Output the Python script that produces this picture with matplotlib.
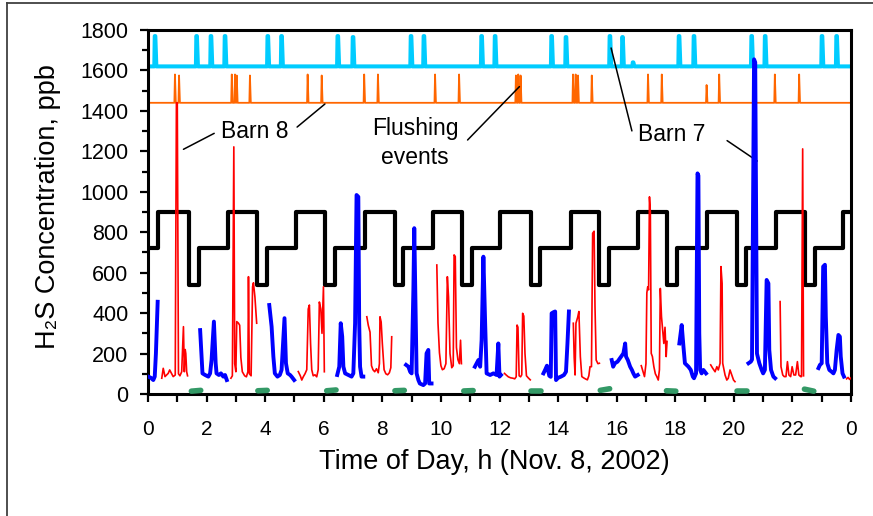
import numpy as np
import matplotlib
matplotlib.use('Agg')
import matplotlib.pyplot as plt
from matplotlib.lines import Line2D

plt.rcParams['font.family'] = ['Liberation Sans', 'DejaVu Sans']

# ---- data (time in h, concentration in ppb) ----
# ventilation stage (black step line): switch times and levels
fan_t = [0, 0.34, 1.40, 1.74, 2.73, 3.71, 4.05, 5.05, 6.04, 6.38, 7.41, 8.43, 8.71,
         9.73, 10.72, 11.06, 12.02, 13.08, 13.38, 14.43, 15.40, 15.74, 16.73, 17.71,
         18.05, 19.07, 20.10, 20.42, 21.44, 22.43, 22.77, 23.74, 24.0]
fan_v = [720, 900, 540, 720, 900, 540, 720, 900, 540, 720, 900, 540, 720,
         900, 540, 720, 900, 540, 720, 900, 540, 720, 900, 540,
         720, 900, 540, 720, 900, 540, 720, 900, 900]

# flushing events, barn 7 (cyan) and barn 8 (orange)
flush7_base = 1620
flush7_t = [0.24, 1.66, 2.15, 2.63, 4.09, 4.56, 6.48, 7.00, 8.98, 9.42, 11.39, 11.85,
            13.78, 14.27, 15.77, 16.20, 16.56, 18.13, 18.64, 20.61, 21.07, 23.01, 23.51]
flush7_h = [1770, 1770, 1770, 1770, 1770, 1770, 1770, 1765, 1770, 1770, 1770, 1770,
            1770, 1765, 1770, 1765, 1640, 1770, 1770, 1770, 1770, 1770, 1770]
flush8_base = 1440
flush8_t = [0.92, 1.06, 2.86, 2.97, 3.03, 3.48, 5.45, 5.93, 7.38, 7.85, 9.80, 10.62,
            12.56, 12.64, 12.72, 14.51, 14.60, 14.68, 15.15, 17.07, 17.54, 19.07,
            19.50, 21.40, 22.23]
flush8_h = [1580, 1575, 1580, 1580, 1575, 1575, 1580, 1575, 1580, 1580, 1580, 1580,
            1575, 1580, 1575, 1580, 1580, 1575, 1575, 1580, 1580, 1528,
            1580, 1580, 1580]

# H2S barn 8 (red), segments separated by nan
red_t = [0.47, 0.52, 0.58, 0.69, 0.74, 0.86, 0.93, 0.97, 1.00, 1.04, 1.09, 1.15, 1.21, 1.24, 1.27, 1.29, 1.32, 1.35, np.nan,
         2.83, 2.88, 2.93, 2.96, 3.00, 3.03, 3.09, 3.13, 3.17, 3.22, 3.30, 3.36, 3.41, 3.43, 3.46, 3.52, 3.57, 3.60, 3.65, 3.71, np.nan,
         5.13, 5.20, 5.25, 5.30, 5.36, 5.42, 5.47, 5.51, 5.55, 5.59, 5.64, 5.70, 5.76, 5.81, 5.85, 5.90, 5.94, 5.99, 6.02, np.nan,
         7.47, 7.52, 7.58, 7.63, 7.68, 7.74, 7.80, 7.86, 7.90, 7.92, 7.96, 8.00, 8.06, 8.12, 8.18, 8.24, 8.29, 8.32, np.nan,
         9.86, 9.90, 9.95, 10.00, 10.05, 10.11, 10.17, 10.22, 10.26, 10.31, 10.37, 10.42, 10.45, 10.49, 10.53, 10.58, 10.63, 10.67, 10.70, np.nan,
         12.17, 12.22, 12.30, 12.38, 12.46, 12.52, 12.57, 12.60, 12.63, 12.67, 12.72, 12.76, 12.79, 12.83, 12.87, 12.92, 12.98, 13.05, np.nan,
         14.52, 14.55, 14.58, 14.61, 14.67, 14.71, 14.76, 14.81, 14.87, 14.93, 15.00, 15.05, 15.09, 15.14, 15.18, 15.23, 15.26, 15.30, 15.36, 15.41, np.nan,
         16.84, 16.90, 16.95, 17.00, 17.03, 17.06, 17.09, 17.12, 17.15, 17.18, 17.22, 17.27, 17.32, 17.37, 17.42, 17.46, 17.49, 17.53, 17.57, 17.61, 17.65, 17.69, 17.72, np.nan,
         19.21, 19.28, 19.36, 19.42, 19.47, 19.53, 19.56, 19.60, 19.62, 19.70, 19.76, 19.81, 19.87, 19.93, 19.99, 20.04, np.nan,
         21.58, 21.61, 21.67, 21.72, 21.78, 21.83, 21.88, 21.94, 21.99, 22.05, 22.11, 22.17, 22.22, 22.28, 22.31, 22.35, 22.37, 22.38, np.nan,
         23.85, 23.90, 23.95, 24.00]
red_v = [78, 127, 86, 102, 119, 86, 94, 1440, 1440, 100, 90, 110, 333, 110, 220, 200, 110, 90, np.nan,
         78, 90, 1222, 150, 110, 358, 350, 340, 180, 110, 90, 85, 110, 580, 100, 90, 530, 550, 480, 350, np.nan,
         111, 90, 69, 85, 100, 120, 420, 440, 250, 120, 90, 95, 85, 120, 455, 420, 300, 530, 110, np.nan,
         382, 340, 306, 140, 120, 110, 125, 105, 150, 382, 356, 250, 120, 100, 95, 105, 130, 283, np.nan,
         638, 351, 204, 140, 120, 125, 150, 580, 480, 200, 130, 140, 688, 680, 230, 170, 150, 266, 150, np.nan,
         102, 95, 85, 80, 78, 75, 85, 341, 330, 90, 85, 95, 399, 385, 200, 90, 80, 70, np.nan,
         350, 180, 94, 350, 380, 408, 185, 86, 80, 75, 70, 90, 135, 135, 795, 805, 433, 168, 150, 152, np.nan,
         140, 110, 86, 150, 500, 530, 515, 975, 900, 201, 185, 135, 100, 86, 69, 120, 522, 383, 317, 250, 330, 185, 260, np.nan,
         144, 127, 110, 135, 119, 152, 630, 547, 152, 94, 69, 78, 119, 94, 69, 61, np.nan,
         457, 135, 94, 86, 86, 160, 94, 86, 135, 94, 94, 160, 94, 86, 86, 1212, 400, 90, np.nan,
         75, 82, 72, 80]

# H2S barn 7 (blue)
blue_t = [0.01, 0.10, 0.18, 0.23, 0.27, 0.33, np.nan,
          1.78, 1.86, 1.95, 2.06, 2.12, 2.17, 2.25, 2.31, 2.34, 2.42, 2.49, 2.57, 2.63, 2.69, np.nan,
          4.14, 4.22, 4.28, 4.33, 4.42, 4.50, 4.56, 4.66, 4.71, 4.77, 4.85, 4.90, 4.99, np.nan,
          6.46, 6.53, 6.58, 6.63, 6.67, 6.73, 6.84, 6.95, 7.01, 7.07, 7.12, 7.18, 7.21, 7.24, 7.29, 7.35, np.nan,
          8.81, 8.89, 8.95, 9.00, 9.06, 9.09, 9.14, 9.17, 9.23, 9.28, 9.40, 9.46, 9.51, 9.57, 9.60, 9.68, np.nan,
          11.16, 11.28, 11.34, 11.39, 11.45, 11.51, 11.56, 11.68, 11.79, 11.90, 11.96, 12.00, 12.05, np.nan,
          13.50, 13.56, 13.62, 13.70, 13.75, 13.78, 13.85, 13.90, 13.93, 14.00, 14.10, 14.20, 14.27, 14.32, 14.37, np.nan,
          15.83, 15.88, 15.94, 16.03, 16.15, 16.23, 16.29, 16.32, 16.38, 16.46, 16.52, 16.57, 16.63, 16.72, np.nan,
          18.14, 18.22, 18.28, 18.33, 18.45, 18.53, 18.60, 18.64, 18.71, 18.76, 18.79, 18.82, 18.85, 18.90, 18.96, 19.05, np.nan,
          20.50, 20.58, 20.62, 20.69, 20.73, 20.79, 20.87, 20.95, 21.00, 21.06, 21.12, 21.18, 21.21, 21.27, 21.35, 21.41, np.nan,
          22.89, 22.94, 23.00, 23.05, 23.11, 23.14, 23.19, 23.26, 23.34, 23.40, 23.45, 23.51, 23.57, 23.62, 23.65, 23.71, 23.76]
blue_v = [86, 80, 69, 86, 200, 456, np.nan,
          316, 102, 94, 86, 102, 168, 358, 152, 102, 94, 102, 86, 94, 69, np.nan,
          440, 333, 185, 102, 86, 94, 119, 375, 152, 102, 94, 86, 69, np.nan,
          94, 135, 350, 284, 135, 102, 94, 86, 102, 350, 984, 975, 350, 135, 86, 86, np.nan,
          144, 135, 110, 102, 515, 820, 350, 102, 69, 52, 44, 52, 201, 218, 52, 52, np.nan,
          135, 168, 135, 267, 679, 350, 102, 94, 102, 94, 250, 86, 94, np.nan,
          102, 120, 140, 90, 85, 399, 405, 408, 69, 80, 86, 94, 110, 250, 408, np.nan,
          168, 135, 152, 160, 185, 201, 250, 185, 168, 135, 119, 102, 86, 94, np.nan,
          250, 341, 234, 152, 135, 119, 86, 78, 102, 1091, 1080, 300, 119, 102, 119, 102, np.nan,
          152, 160, 170, 1655, 1640, 200, 152, 119, 102, 119, 564, 547, 218, 119, 86, 78, np.nan,
          128, 144, 152, 630, 639, 383, 152, 119, 110, 102, 119, 218, 292, 284, 185, 102, 86]

# short green marks near the bottom
green_t0 = [1.48, 3.75, 6.10, 8.43, 10.78, 13.09, 15.44, 17.70, 20.12, 22.41]
green_t1 = [1.80, 4.07, 6.42, 8.75, 11.10, 13.41, 15.76, 18.02, 20.44, 22.73]
green_v0 = [14, 16, 16, 16, 15, 17, 18, 16, 15, 24]
green_v1 = [18, 18, 20, 18, 17, 17, 26, 14, 15, 14]

x_major = [0, 2, 4, 6, 8, 10, 12, 14, 16, 18, 20, 22, 24]
x_labels = ['0', '2', '4', '6', '8', '10', '12', '14', '16', '18', '20', '22', '0']
y_major = [0, 200, 400, 600, 800, 1000, 1200, 1400, 1600, 1800]


def pulse_line(times, heights, base, w_up, w_top, w_down):
    xs, ys = [0.0], [base]
    for t, h in zip(times, heights):
        xs += [t - w_up - w_top / 2, t - w_top / 2, t + w_top / 2, t + w_top / 2 + w_down]
        ys += [base, h, h, base]
    xs.append(24.0)
    ys.append(base)
    return xs, ys


fig = plt.figure(figsize=(8.73, 5.16), dpi=100)
ax = fig.add_axes([148 / 873, 1 - 394 / 516, 703 / 873, 364 / 516])

c7x, c7y = pulse_line(flush7_t, flush7_h, flush7_base, 0.015, 0.02, 0.035)
ax.plot(c7x, c7y, color='#00ccff', lw=2.9, zorder=2)
c8x, c8y = pulse_line(flush8_t, flush8_h, flush8_base, 0.02, 0.0, 0.03)
ax.plot(c8x, c8y, color='#ff6600', lw=1.3, zorder=2)

ax.plot(fan_t, fan_v, color='black', lw=3, drawstyle='steps-post', zorder=3)
ax.plot(red_t, red_v, color='#ff0000', lw=1.2, zorder=4)
ax.plot(blue_t, blue_v, color='#0000ff', lw=2.8, zorder=5)
for a, b, va, vb in zip(green_t0, green_t1, green_v0, green_v1):
    ax.plot([a, b], [va, vb], color='#339966', lw=4, solid_capstyle='round', zorder=6)

ax.set_xlim(0, 24)
ax.set_ylim(0, 1800)
ax.set_xticks(x_major)
ax.set_xticklabels(x_labels)
ax.set_xticks(np.arange(1, 24, 2), minor=True)
ax.set_yticks(y_major)
ax.set_yticks(np.arange(100, 1800, 200), minor=True)
ax.tick_params(axis='x', which='both', direction='out', length=6, width=1.6, labelsize=15, pad=13)
ax.tick_params(axis='y', which='major', direction='out', length=6, width=1.6, labelsize=15.5, pad=8)
ax.tick_params(axis='y', which='minor', direction='out', length=4, width=1.6)
for s in ax.spines.values():
    s.set_linewidth(2.2)

fig.text(48 / 873, 1 - 207 / 516, 'H\u2082S Concentration, ppb', rotation=90,
         ha='center', va='center', fontsize=19.5)
fig.text(494 / 873, 1 - 462 / 516, 'Time of Day, h (Nov. 8, 2002)', ha='center', va='center',
         fontsize=19.5)

# annotations
ax.text(3.65, 1297, 'Barn 8', ha='center', va='center', fontsize=16.5)
ax.text(9.12, 1241, 'Flushing\nevents', ha='center', va='center', fontsize=16.5, linespacing=1.35)
ax.text(17.87, 1281, 'Barn 7', ha='center', va='center', fontsize=16.5)
lk = dict(arrowprops=dict(arrowstyle='-', color='black', lw=1.1, shrinkA=0, shrinkB=0))
ax.annotate('', xy=(1.21, 1210), xytext=(2.26, 1289), **lk)
ax.annotate('', xy=(6.04, 1434), xytext=(5.09, 1320), **lk)
ax.annotate('', xy=(12.68, 1520), xytext=(10.91, 1256), **lk)
ax.annotate('', xy=(15.81, 1711), xytext=(16.52, 1301), **lk)
ax.annotate('', xy=(20.80, 1152), xytext=(19.77, 1253), **lk)

# partial frame around the figure
fig.add_artist(Line2D([7 / 873, 7 / 873], [0, 1 - 3 / 516], color='#404040', lw=1.3))
fig.add_artist(Line2D([7 / 873, 1], [1 - 3 / 516, 1 - 3 / 516], color='#404040', lw=1.3))

fig.savefig('out.png', dpi=100)
